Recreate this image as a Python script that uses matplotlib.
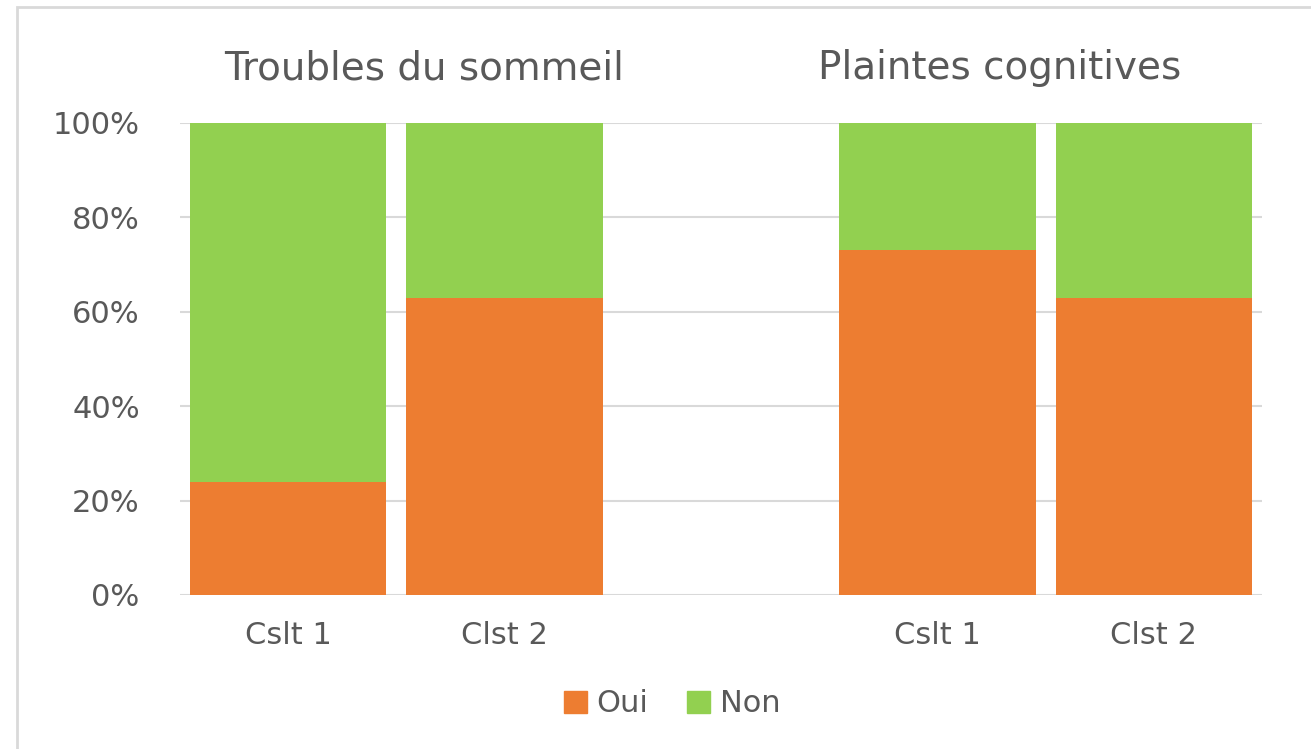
import matplotlib
matplotlib.use("Agg")
from matplotlib import pyplot as plt
from matplotlib.patches import Rectangle, Patch
import numpy as np

plt.rcParams['font.family'] = ['DejaVu Sans']

# data (slot 2 is the empty gap between the two groups)
labels = ['Cslt 1', 'Clst 2', '', 'Cslt 1', 'Clst 2']
oui = np.array([24, 63, np.nan, 73, 63])
non = 100 - oui
group_titles = ['Troubles du sommeil', 'Plaintes cognitives']

orange = '#ED7D31'
green = '#92D050'
txt = '#595959'

fig = plt.figure(figsize=(13.11, 7.49), dpi=100)
ax = fig.add_axes([180/1311, 1-595/749, 1082/1311, 472/749])

x = np.arange(len(labels))
ax.bar(x, oui, width=0.907, color=orange, zorder=3)
ax.bar(x, non, bottom=oui, width=0.907, color=green, zorder=3)

ax.set_xlim(-0.5, 4.5)
ax.set_ylim(0, 100)
ax.set_yticks(np.arange(0, 101, 20))
ax.set_yticklabels([f'{v}%' for v in range(0, 101, 20)])
ax.set_xticks([0, 1, 3, 4])
ax.set_xticklabels([labels[i] for i in [0, 1, 3, 4]])
ax.grid(axis='y', color='#d9d9d9', linewidth=1.5, zorder=0)
ax.tick_params(axis='both', length=0, labelsize=22, colors=txt)
ax.tick_params(axis='y', pad=29)
ax.tick_params(axis='x', pad=19)
for s in ax.spines.values():
    s.set_visible(False)

fig.text(424/1311, 1-68/749, group_titles[0], ha='center', va='center', fontsize=28, color=txt)
fig.text(1000/1311, 1-68/749, group_titles[1], ha='center', va='center', fontsize=28, color=txt)

handles = [Patch(color=orange, label='Oui'), Patch(color=green, label='Non')]
fig.legend(handles=handles, loc='center', bbox_to_anchor=(672/1311, 1-704/749), ncol=2,
           frameon=False, fontsize=22, labelcolor=txt, handlelength=0.75, handleheight=0.75,
           handletextpad=0.3, columnspacing=1.3)

# chart border
fig.patches.append(Rectangle((17/1311, -0.05), 1.1, 1-7/749+0.05, transform=fig.transFigure,
                             fill=False, edgecolor='#d9d9d9', linewidth=2))

fig.savefig('out.png', dpi=100)
